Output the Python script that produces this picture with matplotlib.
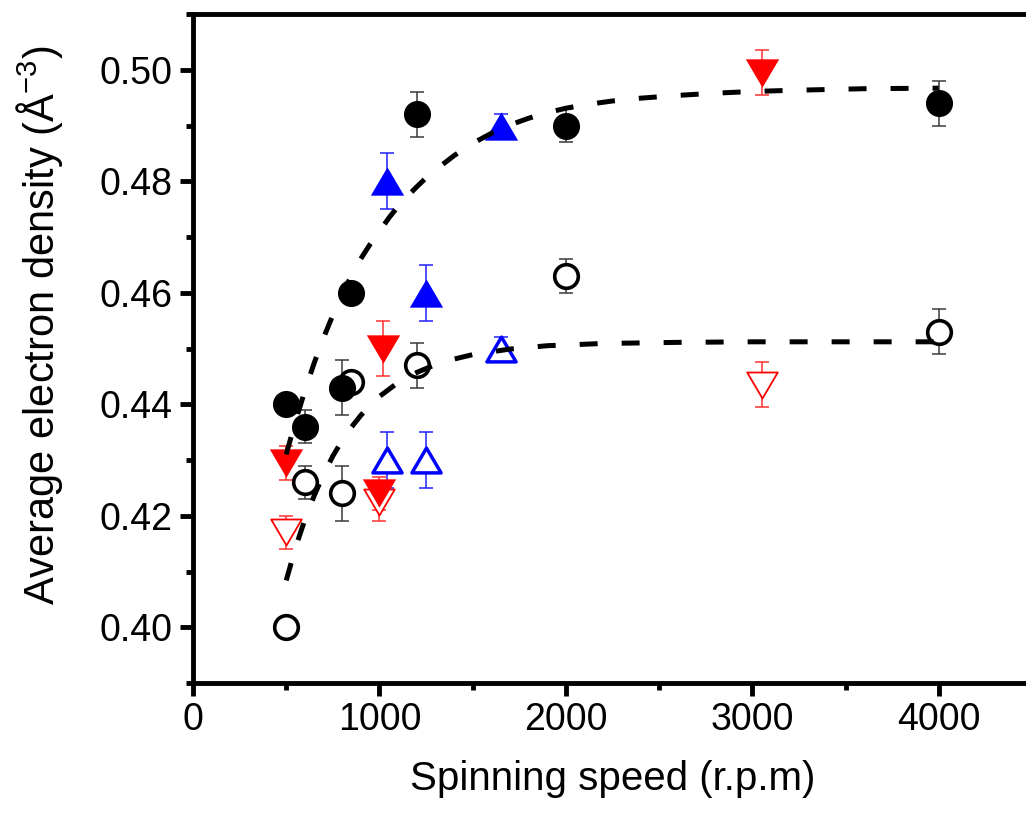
import matplotlib
matplotlib.use('Agg')
import matplotlib.pyplot as plt
from matplotlib.path import Path
from matplotlib.ticker import MultipleLocator, FormatStrFormatter

plt.rcParams['font.family'] = ['Liberation Sans', 'DejaVu Sans']
plt.rcParams['mathtext.fontset'] = 'custom'
plt.rcParams['mathtext.rm'] = 'Liberation Sans'
plt.rcParams['mathtext.it'] = 'Liberation Sans'

# ---- datos ----
# circulos negros rellenos
x_fc = [500, 600, 800, 850, 1200, 2000, 4000]
y_fc = [0.440, 0.436, 0.443, 0.460, 0.492, 0.490, 0.494]
e_fc = [0.0, 0.003, 0.005, 0.0, 0.004, 0.003, 0.004]

# circulos negros abiertos
x_oc = [500, 600, 800, 850, 1200, 2000, 4000]
y_oc = [0.400, 0.426, 0.424, 0.444, 0.447, 0.463, 0.453]
e_oc = [0.0, 0.003, 0.005, 0.0, 0.004, 0.003, 0.004]

# triangulos azules
x_bf = [1040, 1250, 1650]
y_bf = [0.480, 0.460, 0.490]
e_bf = [0.005, 0.005, 0.002]
x_bo = [1040, 1250, 1650]
y_bo = [0.430, 0.430, 0.450]
e_bo = [0.005, 0.005, 0.002]

# triangulos rojos invertidos
x_rf = [500, 1020, 1000, 3050]
y_rf = [0.4295, 0.450, 0.424, 0.4995]
e_rf = [0.003, 0.005, 0.003, 0.004]
x_ro = [500, 1000, 3050]
y_ro = [0.417, 0.4225, 0.4435]
e_ro = [0.003, 0.0035, 0.004]

# curvas de ajuste (puntos leidos sobre la linea discontinua)
fit_hi_x = [500, 550, 600, 650, 700, 750, 800, 850, 900, 950, 1000, 1050,
            1100, 1150, 1200, 1250, 1300, 1400, 1500, 1600, 1700, 1800,
            1900, 2000, 2100, 2250, 2400, 2600, 2800, 3000, 3200, 3600, 4000]
fit_hi_y = [0.431, 0.437, 0.4424, 0.4474, 0.4519, 0.456, 0.4597, 0.4631,
            0.4661, 0.4687, 0.471, 0.4734, 0.4755, 0.4773, 0.479, 0.4806,
            0.482, 0.4846, 0.4868, 0.4886, 0.4901, 0.4913, 0.4923, 0.4931,
            0.4937, 0.4944, 0.4949, 0.4954, 0.4958, 0.4961, 0.4963, 0.4966,
            0.4967]
fit_lo_x = [500, 550, 600, 650, 700, 750, 800, 850, 900, 950, 1000, 1100,
            1200, 1300, 1400, 1500, 1700, 1900, 2200, 2600, 3000, 3500, 4000]
fit_lo_y = [0.4084, 0.4143, 0.4193, 0.4236, 0.4274, 0.4307, 0.4335, 0.4359,
            0.438, 0.4398, 0.4414, 0.4439, 0.4457, 0.4471, 0.4481, 0.4489,
            0.4499, 0.4505, 0.4509, 0.4511, 0.4512, 0.4512, 0.4512]

tri_up = Path([(0, 0.85), (-1, -0.85), (1, -0.85), (0, 0.85)], closed=True)
tri_dn = Path([(0, -0.85), (-1, 0.85), (1, 0.85), (0, -0.85)], closed=True)

fig = plt.figure(figsize=(10.26, 8.16), dpi=100)
ax = fig.add_axes([193 / 1026, 133 / 816, 839 / 1026, 669 / 816])

eb_kw = dict(ls='none', elinewidth=1.1, capsize=4.8, capthick=1.1)

# barras de error (detras de los marcadores)
ax.errorbar(x_fc, y_fc, yerr=e_fc, ecolor='#3a3a3a', fmt='none', zorder=2, **eb_kw)
ax.errorbar(x_oc, y_oc, yerr=e_oc, ecolor='#3a3a3a', fmt='none', zorder=2, **eb_kw)
ax.errorbar(x_bf, y_bf, yerr=e_bf, ecolor='#2020ff', fmt='none', zorder=2, **eb_kw)
ax.errorbar(x_bo, y_bo, yerr=e_bo, ecolor='#2020ff', fmt='none', zorder=2, **eb_kw)
ax.errorbar(x_rf, y_rf, yerr=e_rf, ecolor='#ff3030', fmt='none', zorder=2, **eb_kw)
ax.errorbar(x_ro, y_ro, yerr=e_ro, ecolor='#ff3030', fmt='none', zorder=2, **eb_kw)

# triangulos
ax.plot(x_ro, y_ro, ls='none', marker=tri_dn, ms=22, mfc='white', mec='red', mew=1.3, zorder=3)
ax.plot(x_rf, y_rf, ls='none', marker=tri_dn, ms=24, mfc='red', mec='red', mew=0, zorder=3)
ax.plot(x_bo, y_bo, ls='none', marker=tri_up, ms=21, mfc='white', mec='blue', mew=2.5, zorder=3)
ax.plot(x_bf, y_bf, ls='none', marker=tri_up, ms=24, mfc='blue', mec='blue', mew=0, zorder=3)

# circulos
ax.plot(x_oc, y_oc, ls='none', marker='o', ms=17, mfc='white', mec='black', mew=2.6, zorder=4)
ax.plot(x_fc, y_fc, ls='none', marker='o', ms=19.5, mfc='black', mec='black', mew=0, zorder=4)

# ajustes
ax.plot(fit_hi_x, fit_hi_y, color='black', lw=3.6, ls=(0, (3.6, 4.8)), zorder=5)
ax.plot(fit_lo_x, fit_lo_y, color='black', lw=3.6, ls=(0, (3.6, 4.8)), zorder=5)

ax.set_xlim(0, 4500)
ax.set_ylim(0.39, 0.51)
ax.xaxis.set_major_locator(MultipleLocator(1000))
ax.xaxis.set_minor_locator(MultipleLocator(500))
ax.yaxis.set_major_locator(MultipleLocator(0.02))
ax.yaxis.set_minor_locator(MultipleLocator(0.01))
ax.yaxis.set_major_formatter(FormatStrFormatter('%.2f'))

for s in ['left', 'bottom', 'top']:
    ax.spines[s].set_linewidth(3.5)
ax.spines['right'].set_visible(False)

ax.tick_params(which='major', direction='out', length=9.5, width=3.5)
ax.tick_params(which='minor', direction='out', length=5, width=3.5)
ax.tick_params(axis='x', which='both', top=False, labelsize=27, pad=4)
ax.tick_params(axis='y', which='both', right=False, labelsize=27, pad=5)

ax.set_xlabel('Spinning speed (r.p.m)', fontsize=29, labelpad=16)
fig.text(40 / 1026, 1 - 325 / 816, r'Average electron density (Å$^{-3}$)',
         rotation=90, ha='center', va='center', fontsize=30)

fig.savefig('out.png', dpi=100)
